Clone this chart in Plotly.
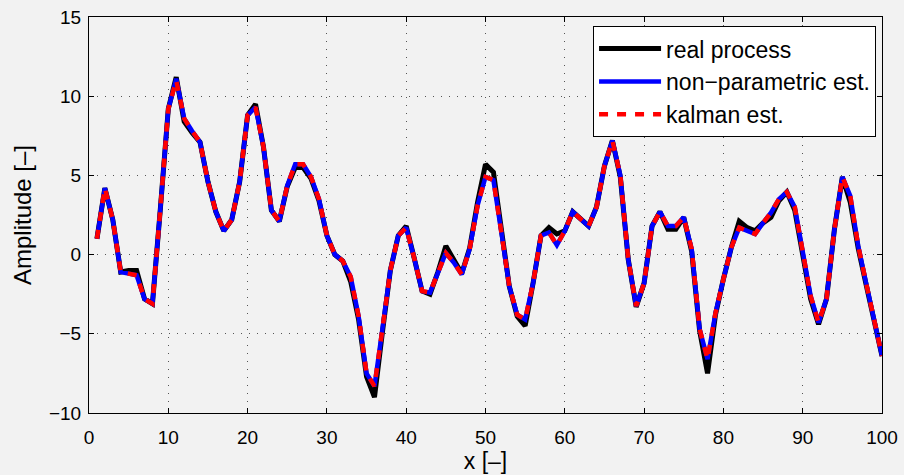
import plotly.graph_objects as go

x_vals = list(range(1, 101))

non_parametric = [
    1.0, 4.2, 2.2, -1.1, -1.2, -1.3, -2.8, -3.1, 2.9, 9.2,
    11.1, 8.6, 7.8, 7.1, 4.6, 2.7, 1.5, 2.2, 4.6, 8.8,
    9.3, 6.8, 2.8, 2.1, 4.35, 5.7, 5.7, 4.9, 3.5, 1.2,
    0.0, -0.4, -1.4, -3.9, -7.5, -8.3, -4.7, -1.0, 1.2, 1.7,
    -0.2, -2.3, -2.4, -1.1, 0.1, -0.5, -1.25, 0.35, 3.1, 4.9,
    4.7, 1.4, -2.0, -3.8, -4.1, -1.8, 1.2, 1.4, 0.6, 1.5,
    2.7, 2.25, 1.8, 3.0, 5.6, 7.2, 5.0, -0.3, -3.25, -1.8,
    1.8, 2.7, 1.8, 1.8, 2.35, 0.35, -4.7, -6.6, -3.7, -1.55,
    0.45, 1.7, 1.5, 1.3, 2.0, 2.65, 3.5, 3.95, 3.0, 0.15,
    -2.6, -4.3, -2.8, 1.6, 4.9, 3.7, 0.55, -1.8, -4.1, -6.4,
]

kalman = [
    1.0, 4.2, 2.2, -1.1, -1.2, -1.3, -2.8, -3.1, 2.9, 9.2,
    11.0, 8.6, 7.8, 7.1, 4.6, 2.7, 1.5, 2.2, 4.6, 8.8,
    9.3, 6.8, 2.8, 2.1, 4.35, 5.7, 5.7, 4.9, 3.5, 1.2,
    0.0, -0.4, -1.4, -3.9, -7.5, -8.3, -4.7, -1.0, 1.2, 1.7,
    -0.2, -2.3, -2.4, -1.1, 0.1, -0.5, -1.25, 0.35, 3.1, 4.9,
    4.7, 1.4, -2.0, -3.8, -4.1, -1.8, 1.2, 1.4, 0.6, 1.5,
    2.7, 2.25, 1.8, 3.0, 5.6, 7.2, 5.0, -0.3, -3.25, -1.8,
    1.8, 2.7, 1.8, 1.8, 2.35, 0.35, -4.7, -6.6, -3.7, -1.55,
    0.45, 1.7, 1.5, 1.3, 2.0, 2.65, 3.5, 3.95, 3.0, 0.15,
    -2.6, -4.3, -2.8, 1.6, 4.9, 3.7, 0.55, -1.8, -4.1, -6.4,
]

real_process = [
    1.0, 4.2, 2.2, -1.1, -1.0, -1.0, -2.8, -3.1, 2.9, 9.2,
    11.2, 8.4, 7.7, 7.1, 4.6, 2.7, 1.5, 2.2, 4.6, 8.8,
    9.5, 6.8, 2.8, 2.1, 4.3, 5.5, 5.5, 4.8, 3.4, 1.2,
    0.0, -0.4, -1.7, -4.1, -7.7, -9.0, -4.9, -1.0, 1.2, 1.8,
    -0.2, -2.3, -2.5, -1.1, 0.55, -0.3, -1.2, 0.4, 3.3, 5.7,
    5.2, 1.6, -2.0, -3.9, -4.5, -1.8, 1.2, 1.7, 1.3, 1.5,
    2.7, 2.25, 1.8, 3.0, 5.6, 7.2, 4.9, -0.3, -3.3, -1.8,
    1.8, 2.7, 1.6, 1.6, 2.35, 0.2, -4.8, -7.5, -3.8, -1.55,
    0.45, 2.1, 1.7, 1.5, 2.0, 2.35, 3.4, 3.95, 2.8, 0.0,
    -2.8, -4.4, -2.8, 1.6, 4.9, 3.3, 0.4, -1.9, -4.2, -6.4,
]

x_ticks = list(range(0, 101, 10))
y_ticks = list(range(-10, 16, 5))

FONT = "Liberation Sans, Arial, Helvetica, sans-serif"

fig = go.Figure()
fig.add_trace(go.Scatter(x=x_vals, y=real_process, mode="lines", name="real process",
                         line=dict(color="black", width=5)))
fig.add_trace(go.Scatter(x=x_vals, y=non_parametric, mode="lines", name="non\u2212parametric est.",
                         line=dict(color="#0000ff", width=4.5)))
fig.add_trace(go.Scatter(x=x_vals, y=kalman, mode="lines", name="kalman est.",
                         line=dict(color="#ff0000", width=4.5, dash="9px,9px")))

axis_common = dict(
    showline=True, linecolor="black", linewidth=1, mirror="ticks",
    ticks="inside", ticklen=5, tickcolor="black", tickwidth=1,
    showgrid=True, gridcolor="#555555", gridwidth=1, griddash="1px,7px",
    zeroline=False, tickfont=dict(family=FONT, size=19, color="black"),
    automargin=False,
)

fig.update_xaxes(range=[0, 100], tickvals=x_ticks, ticklabelstandoff=7,
                 title=dict(text="x [\u2013]", font=dict(family=FONT, size=23, color="black"), standoff=2),
                 **axis_common)
fig.update_yaxes(range=[-10, 15], tickvals=y_ticks, ticklabelstandoff=3,
                 title=dict(text="Amplitude [\u2013]", font=dict(family=FONT, size=24, color="black"), standoff=10),
                 **axis_common)

fig.update_layout(
    width=904, height=475,
    margin=dict(l=89, r=22, t=17, b=62),
    paper_bgcolor="#f2f2f2", plot_bgcolor="#f2f2f2",
    font=dict(family=FONT, color="black"),
    legend=dict(x=0.9925, xanchor="right", y=0.977, yanchor="top",
                bgcolor="white", bordercolor="black", borderwidth=1,
                font=dict(family=FONT, size=23, color="black"),
                itemwidth=62, entrywidth=300, entrywidthmode="pixels",
                tracegroupgap=0),
    showlegend=True,
)

fig.write_html("out.html")
